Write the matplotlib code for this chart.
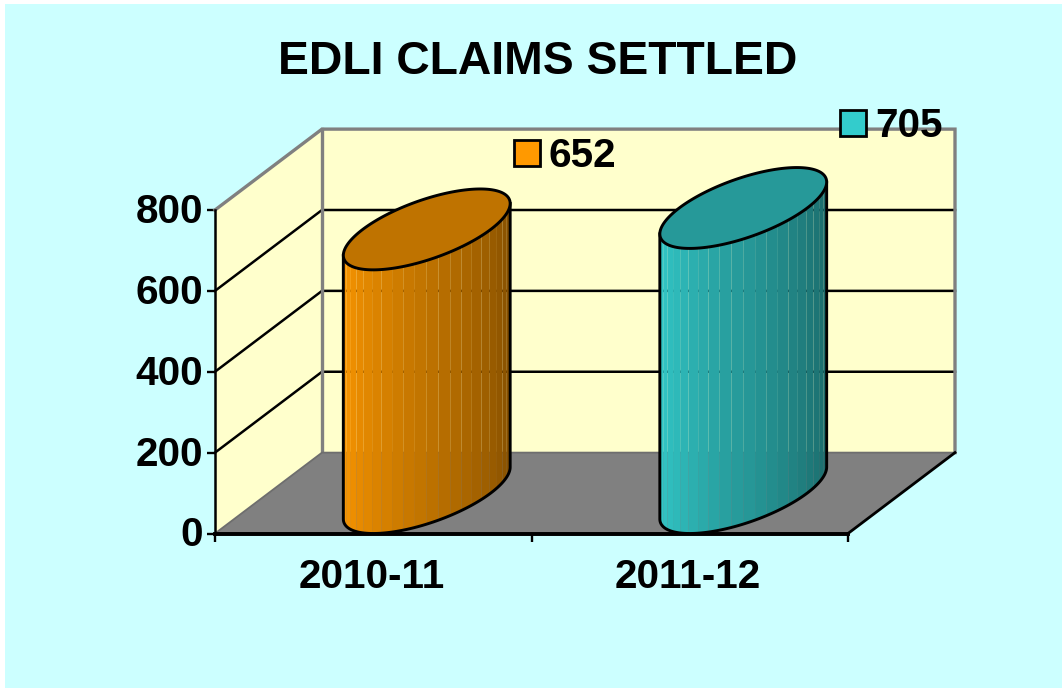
import numpy as np
import matplotlib
matplotlib.use("Agg")
import matplotlib.pyplot as plt
from matplotlib.patches import Polygon, Rectangle
from matplotlib.colors import to_rgb
from matplotlib.transforms import ScaledTranslation

title = "EDLI CLAIMS SETTLED"
categories = ["2010-11", "2011-12"]
values = [652, 705]
y_ticks = [0, 200, 400, 600, 800]
light_colors = ["#FF9900", "#33CCCC"]

W, H = 1062, 690
plt.rcParams["font.family"] = ["Liberation Sans", "DejaVu Sans"]
fig = plt.figure(figsize=(W / 100, H / 100), dpi=100, facecolor="white")
fig.add_artist(Rectangle((5 / W, 2 / H), 1, 1 - 6 / H, transform=fig.transFigure,
                         facecolor="#CCFFFF", edgecolor="none", zorder=-10))

# front plane of the 3D box in pixels: x 215..848, y 533..210
ax = fig.add_axes([215 / W, 1 - 533.5 / H, (848 - 215) / W, (533.5 - 210) / H])
ax.set_xlim(0, len(categories))
ax.set_ylim(y_ticks[0], y_ticks[-1])
ax.patch.set_visible(False)
for s in ("top", "right"):
    ax.spines[s].set_visible(False)
ax.spines["left"].set_linewidth(1.8)
ax.spines["bottom"].set_linewidth(2.6)

xmax = len(categories)
ymax = y_ticks[-1]
DX = 107 / 316.5     # depth shift, category units
DY = 200             # depth shift, value units
kw = dict(clip_on=False)

# walls and floor
ax.add_patch(Polygon([(0, 0), (DX, DY), (DX, ymax + DY), (0, ymax)], facecolor="#FFFFCC",
                     edgecolor="none", zorder=1, **kw))
ax.add_patch(Polygon([(DX, DY), (xmax + DX, DY), (xmax + DX, ymax + DY), (DX, ymax + DY)],
                     facecolor="#FFFFCC", edgecolor="none", zorder=1, **kw))
ax.add_patch(Polygon([(0, 0), (xmax, 0), (xmax + DX, DY), (DX, DY)], facecolor="#808080",
                     edgecolor="none", zorder=1.5, **kw))
# gridlines
for v in y_ticks[1:-1]:
    ax.plot([0, DX, xmax + DX], [v, v + DY, v + DY], color="black", lw=1.8, zorder=2, **kw)
# frame
grey = "#808080"
ax.plot([0, DX, xmax + DX, xmax + DX], [ymax, ymax + DY, ymax + DY, DY],
        color=grey, lw=2.4, zorder=2.2, solid_joinstyle="miter", **kw)
ax.plot([DX, DX], [DY, ymax + DY], color=grey, lw=2.4, zorder=2.2, **kw)
ax.plot([0, DX, xmax + DX], [0, DY, DY], color="#6E6E6E", lw=1.3, zorder=2.2, **kw)
ax.plot([xmax, xmax + DX], [0, DY], color="black", lw=2.0, zorder=2.2, **kw)
ax.plot([0, xmax], [0, 0], color="black", lw=2.6, zorder=2.3, **kw)

# cylinders
A = 64 / 316.5
B = DX / 2
t0 = np.arctan2(B, A)
N_STRIPES = 22


def ell(cx, base, t):
    return cx + B + A * np.cos(t) + B * np.sin(t), base + DY / 2 + DY / 2 * np.sin(t)


for i, (val, col) in enumerate(zip(values, light_colors)):
    cx = i + 0.5
    rgb = np.array(to_rgb(col))
    edges = np.linspace(t0 + np.pi, t0 + 2 * np.pi, N_STRIPES + 1)
    for j in range(N_STRIPES):
        tt = np.linspace(edges[j], edges[j + 1], 6)
        xb, yb = ell(cx, 0, tt)
        xt, yt = ell(cx, val, tt)
        shade = 1 - 0.5 * j / (N_STRIPES - 1)
        ax.add_patch(Polygon(np.r_[np.c_[xb, yb], np.c_[xt[::-1], yt[::-1]]], closed=True,
                             facecolor=rgb * shade, edgecolor="none", zorder=3, **kw))
    tt = np.linspace(t0 + np.pi, t0 + 2 * np.pi, 100)
    xb, yb = ell(cx, 0, tt)
    xo = np.r_[xb[0], xb, xb[-1]]
    yo = np.r_[val + DY / 2 + DY / 2 * np.sin(t0 + np.pi), yb, val + DY / 2 + DY / 2 * np.sin(t0)]
    ax.plot(xo, yo, color="black", lw=2.1, zorder=3.5, solid_joinstyle="round", **kw)
    ta = np.linspace(0, 2 * np.pi, 200)
    xe, ye = ell(cx, val, ta)
    ax.add_patch(Polygon(np.c_[xe, ye], closed=True, facecolor=rgb * 0.75, edgecolor="black",
                         lw=2.1, zorder=4, **kw))

# axes ticks and labels
ax.set_yticks(y_ticks)
ax.set_yticklabels([str(v) for v in y_ticks])
ax.set_xticks(range(xmax + 1))
ax.set_xticklabels([])
ax.set_xticks(np.arange(xmax) + 0.5, minor=True)
ax.set_xticklabels(categories, minor=True)
ax.tick_params(axis="y", length=6, width=1.7, pad=2.5, labelsize=29.2, labelcolor="black")
ax.tick_params(axis="x", which="major", length=6, width=1.7)
ax.tick_params(axis="x", which="minor", length=0, pad=18, labelsize=29.2)
for lab in ax.get_yticklabels():
    lab.set_fontweight("bold")
    lab.set_transform(lab.get_transform() + ScaledTranslation(0, 2 / 100, fig.dpi_scale_trans))
for lab in ax.get_xticklabels(minor=True):
    lab.set_fontweight("bold")
    lab.set_transform(lab.get_transform() + ScaledTranslation(-1.5 / 100, 0, fig.dpi_scale_trans))

fig.text(538 / W, 1 - 62 / H, title, ha="center", va="center", fontsize=33.3, fontweight="bold")

# legend entries
legend_pos = [(514, 140), (840, 110)]
for (lx, ly), val, col in zip(legend_pos, values, light_colors):
    fig.add_artist(Rectangle((lx / W, 1 - (ly + 26) / H), 26 / W, 26 / H, transform=fig.transFigure,
                             facecolor=col, edgecolor="black", lw=2.0, zorder=10))
    fig.text((lx + 35) / W, 1 - (ly + 12) / H, str(val), ha="left", va="center_baseline",
             fontsize=29.2, fontweight="bold", zorder=10)

fig.savefig("out.png", dpi=100, facecolor="white")
